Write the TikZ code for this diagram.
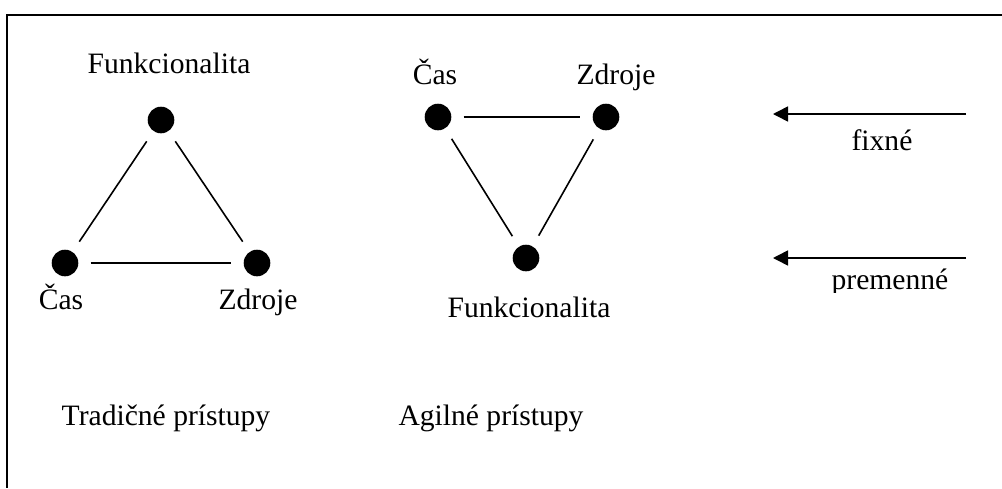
\documentclass[tikz,border=0pt]{standalone}
\usepackage{fontspec}
\setmainfont{Liberation Serif}
\usetikzlibrary{arrows.meta}

\tikzset{
    dot/.style={circle, fill=black, inner sep=0pt, minimum size=13.3pt},
    side/.style={line width=0.8pt, shorten >=6pt, shorten <=6pt},
    base/.style={line width=1.1pt, shorten >=6pt, shorten <=6pt},
    lbl/.style={anchor=base, inner sep=0pt, font=\fontsize{14.8}{17}\selectfont},
    marker/.style={line width=0.8pt, -{Triangle[length=7.5pt, width=7.5pt]}}
}

\begin{document}
\begin{tikzpicture}[x=0.5pt, y=-0.5pt]

    \useasboundingbox (0,0) rectangle (1002,488);

    % frame, only top and left edge
    \coordinate (tl) at (7,15);
    \coordinate (tr) at (1002,15);
    \coordinate (bl) at (7,488);
    \draw[line width=1.1pt] (tr) -- (tl) -- (bl);

    % traditional: functionality on top
    \node [dot] (tF) at (161,120) {}; % top dot
    \node [dot] (tC) at (65,263) {}; % bottom left dot
    \node [dot] (tZ) at (257,263) {}; % bottom right dot
    \node [lbl] (tFl) at (169,73) {Funkcionalita};
    \node [lbl] (tCl) at (61,309) {Čas};
    \node [lbl] (tZl) at (258,309) {Zdroje};
    \node [lbl] (tT) at (166,425) {Tradičné prístupy};
    \draw [side] (tF) -- (tC);
    \draw [side] (tF) -- (tZ);
    \draw [base] (tC) -- (tZ);

    % agile: functionality at the bottom
    \node [dot] (aC) at (438,117) {}; % top left dot
    \node [dot] (aZ) at (606,117) {}; % top right dot
    \node [dot] (aF) at (526,258) {}; % bottom dot
    \node [lbl] (aCl) at (435,84) {Čas};
    \node [lbl] (aZl) at (616,84) {Zdroje};
    \node [lbl] (aFl) at (529,317) {Funkcionalita};
    \node [lbl] (aT) at (491,425) {Agilné prístupy};
    \draw [base] (aC) -- (aZ);
    \draw [side] (aC) -- (aF);
    \draw [side] (aZ) -- (aF);

    % legend arrows
    \coordinate (fixS) at (966,114);
    \coordinate (fixE) at (773,114);
    \coordinate (varS) at (966,258);
    \coordinate (varE) at (773,258);
    \draw [marker] (fixS) -- (fixE);
    \draw [marker] (varS) -- (varE);
    \node [lbl] (fix) at (882,150) {fixné};
    \begin{scope}
        \clip (760,200) rectangle (1002,292); % text box cuts the descenders
        \node [lbl] (var) at (890,289) {premenné};
    \end{scope}

\end{tikzpicture}
\end{document}
